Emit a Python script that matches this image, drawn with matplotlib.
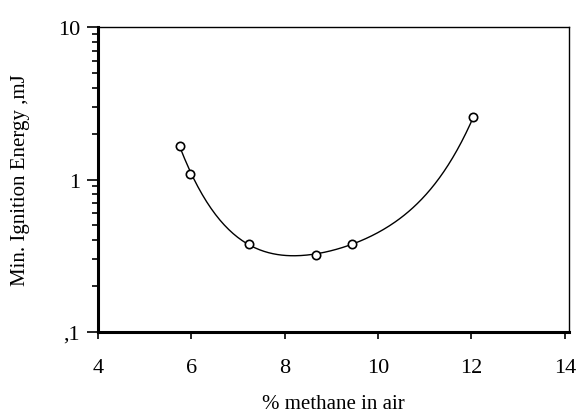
import numpy as np
import matplotlib.pyplot as plt
from matplotlib.ticker import FixedLocator, NullFormatter

# data
methane_pct = [5.76, 5.98, 7.23, 8.66, 9.45, 12.04]
min_energy = [1.65, 1.09, 0.38, 0.32, 0.38, 2.56]

x_ticks = [4, 6, 8, 10, 12, 14]
y_ticks = [0.1, 1, 10]
y_tick_labels = [',1', '1', '10']

plt.rcParams['font.family'] = ['Liberation Serif', 'DejaVu Serif']

fig = plt.figure(figsize=(5.82, 4.14), dpi=100)
ax = fig.add_axes([98/582, 1-333/414, 471/582, 305/414])

# smooth trend line fitted through the points (log scale)
coef = np.polyfit(methane_pct, np.log10(min_energy), 4)
xs = np.linspace(min(methane_pct), max(methane_pct), 200)
ax.plot(xs, 10**np.polyval(coef, xs), color='black', lw=1)

ax.plot(methane_pct, min_energy, 'o', ms=6, mfc='white', mec='black', mew=1.2)

ax.set_yscale('log')
ax.set_xlim(4, 14.09)
ax.set_ylim(0.1, 10)

ax.set_xticks(x_ticks)
ax.set_xticklabels([str(t) for t in x_ticks], fontsize=16)
ax.yaxis.set_major_locator(FixedLocator(y_ticks))
ax.set_yticklabels(y_tick_labels, fontsize=16)
ax.yaxis.set_minor_formatter(NullFormatter())

ax.tick_params(axis='x', direction='out', length=5, width=1.2, pad=14)
ax.tick_params(axis='y', which='major', direction='out', length=8, width=1.2, pad=5)
ax.tick_params(axis='y', which='minor', direction='out', length=4, width=1.2)

for s in ['left', 'bottom']:
    ax.spines[s].set_linewidth(2.2)
for s in ['top', 'right']:
    ax.spines[s].set_linewidth(1)

ax.set_xlabel('% methane in air', fontsize=15, labelpad=12)
ax.set_ylabel('Min. Ignition Energy ,mJ', fontsize=15, labelpad=20)

fig.savefig('out.png', dpi=100)
